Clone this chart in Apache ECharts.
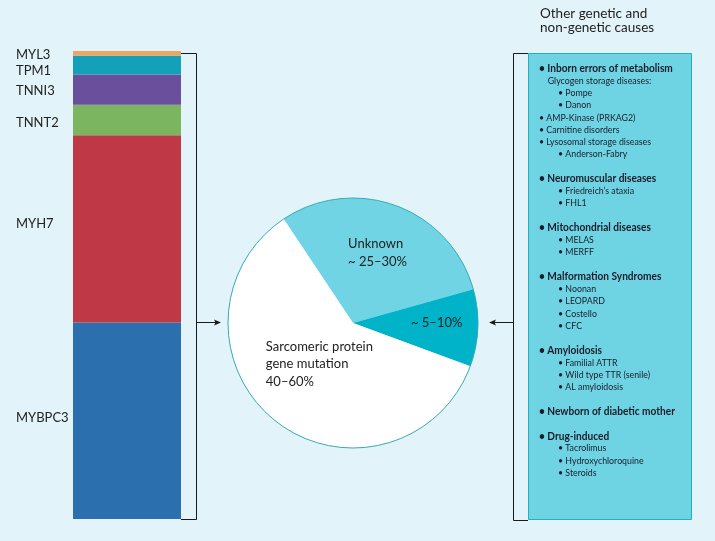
<!DOCTYPE html>
<html><head><meta charset="utf-8">
<script src="https://cdn.jsdelivr.net/npm/echarts@6/dist/echarts.min.js"></script>
<style>html,body{margin:0;padding:0;background:#e2f4f9}#c{width:715px;height:541px}</style>
</head><body><div id="c"></div>
<script>
// Sarcomeric genes (stacked bar, bottom to top)
const genes = ['MYBPC3', 'MYH7', 'TNNT2', 'TNNI3', 'TPM1', 'MYL3'];
const geneShare = [42, 40, 6.5, 6.5, 4, 1];
const geneColors = ['#2b6fae', '#bf3846', '#7cb55f', '#6a4f9c', '#13a0b8', '#e8a765'];
const geneLabelOffsetY = [-2.5, -5.5, 2.5, 1, 6, 1.5];

// Pie of causes
const pieNames = ['Unknown', 'Other genetic and non-genetic causes', 'Sarcomeric protein gene mutation'];
const pieValues = [30, 10, 60];
const pieLabels = ['Unknown\n~ 25–30%', '~ 5–10%', 'Sarcomeric protein\ngene mutation\n40–60%'];
const pieColors = ['#70d4e4', '#00b3c9', '#ffffff'];
const pieLabelOffsets = [[-27.7, -9], [-7.5, -2.5], [-46.6, -10.5]];

// Other causes list: [text, kind]  kind: h = heading, b = bullet, s = sub heading, i = indented bullet, null = blank
const otherTitle = 'Other genetic and\nnon-genetic causes';
const otherCauses = [
  ['Inborn errors of metabolism', 'h'],
  ['Glycogen storage diseases:', 's'],
  ['Pompe', 'i'],
  ['Danon', 'i'],
  ['AMP-Kinase (PRKAG2)', 'b'],
  ['Carnitine disorders', 'b'],
  ['Lysosomal storage diseases', 'b'],
  ['Anderson-Fabry', 'i'],
  null,
  ['Neuromuscular diseases', 'h'],
  ['Friedreich\u2019s ataxia', 'i'],
  ['FHL1', 'i'],
  null,
  ['Mitochondrial diseases', 'h'],
  ['MELAS', 'i'],
  ['MERFF', 'i'],
  null,
  ['Malformation Syndromes', 'h'],
  ['Noonan', 'i'],
  ['LEOPARD', 'i'],
  ['Costello', 'i'],
  ['CFC', 'i'],
  null,
  ['Amyloidosis', 'h'],
  ['Familial ATTR', 'i'],
  ['Wild type TTR (senile)', 'i'],
  ['AL amyloidosis', 'i'],
  null,
  ['Newborn of diabetic mother', 'h'],
  null,
  ['Drug-induced', 'h'],
  ['Tacrolimus', 'i'],
  ['Hydroxychloroquine', 'i'],
  ['Steroids', 'i']
];

const FONT = 'Lato, "Open Sans", sans-serif';
const TXT = '#1b1b29';
const LINE = '#1a1a1a';

const chart = echarts.init(document.getElementById('c'), null, {renderer: 'canvas'});

const barSeries = genes.map((g, i) => ({
  type: 'bar',
  name: g,
  stack: 'genes',
  data: [geneShare[i]],
  barWidth: '100%',
  itemStyle: {color: geneColors[i]},
  silent: true,
  label: {
    show: true,
    formatter: g,
    position: [-57, '50%'],
    align: 'left',
    verticalAlign: 'middle',
    offset: [0, geneLabelOffsetY[i]],
    fontFamily: FONT,
    fontSize: 13,
    color: '#222'
  }
}));

const pieData = pieNames.map((n, i) => ({
  name: n,
  value: pieValues[i],
  itemStyle: {color: pieColors[i]},
  label: {
    formatter: pieLabels[i],
    offset: pieLabelOffsets[i],
    align: 'left'
  }
}));

// right box text elements
const textEls = [];
const rowTop = 68.5, rowH = 12.25;
const kindX = {h: 539, b: 539, s: 547.7, i: 558};
otherCauses.forEach((item, row) => {
  if (!item) return;
  const [t, kind] = item;
  const bold = kind === 'h';
  textEls.push({
    type: 'text',
    x: kindX[kind],
    y: rowTop + row * rowH,
    scaleX: bold ? 0.92 : 0.88,
    silent: true,
    style: {
      text: kind === 's' ? t : '\u2022 ' + t,
      fontFamily: FONT,
      fontSize: bold ? 11 : 10,
      fontWeight: bold ? 'bold' : 'normal',
      fill: TXT,
      verticalAlign: 'middle',
      align: 'left'
    }
  });
});

chart.setOption({
  backgroundColor: '#e2f4f9',
  animation: false,
  grid: {left: 73, top: 51, width: 108, height: 468},
  xAxis: {type: 'category', data: [''], show: false},
  yAxis: {type: 'value', min: 0, max: 100, show: false},
  series: barSeries.concat([
    {
      type: 'pie',
      center: [353, 323],
      radius: 125,
      startAngle: 123.7,
      clockwise: true,
      silent: true,
      data: pieData,
      itemStyle: {borderWidth: 0},
      label: {
        show: true,
        position: 'inside',
        fontFamily: FONT,
        fontSize: 13,
        lineHeight: 17.5,
        color: '#222'
      },
      labelLayout: function () { return {align: 'left'}; },
      labelLine: {show: false},
      emphasis: {disabled: true}
    },
    {
      type: 'pie',
      center: [353, 323],
      radius: 125,
      silent: true,
      data: [{value: pieValues.reduce((a, b) => a + b, 0), name: 'outline'}],
      itemStyle: {color: 'rgba(0,0,0,0)', borderColor: '#35aab8', borderWidth: 1},
      label: {show: false},
      labelLine: {show: false},
      emphasis: {disabled: true}
    }
  ]),
  graphic: [
    // left bracket + arrow
    {type: 'polyline', silent: true, shape: {points: [[181, 53.5], [196.5, 53.5], [196.5, 519.5], [181, 519.5]]}, style: {stroke: LINE, lineWidth: 1, fill: null}},
    {type: 'line', silent: true, shape: {x1: 196.5, y1: 322.5, x2: 216, y2: 322.5}, style: {stroke: LINE, lineWidth: 1}},
    {type: 'polygon', silent: true, shape: {points: [[221, 322.5], [214, 319.5], [215.5, 322.5], [214, 325.5]]}, style: {fill: LINE}},
    // right box
    {type: 'rect', silent: true, shape: {x: 528.5, y: 53.5, width: 163, height: 466}, style: {fill: '#6ed4e4', stroke: '#22b0c2', lineWidth: 1}},
    {type: 'polyline', silent: true, shape: {points: [[528, 53.5], [513.5, 53.5], [513.5, 520.5], [528, 520.5]]}, style: {stroke: LINE, lineWidth: 1, fill: null}},
    {type: 'line', silent: true, shape: {x1: 513.5, y1: 322.5, x2: 494, y2: 322.5}, style: {stroke: LINE, lineWidth: 1}},
    {type: 'polygon', silent: true, shape: {points: [[489, 322.5], [496, 319.5], [494.5, 322.5], [496, 325.5]]}, style: {fill: LINE}},
    {type: 'text', silent: true, x: 540, y: 7, style: {text: otherTitle, fontFamily: FONT, fontSize: 13.5, lineHeight: 14, fill: '#222', align: 'left', verticalAlign: 'top'}}
  ].concat(textEls)
});
</script>
</body></html>
